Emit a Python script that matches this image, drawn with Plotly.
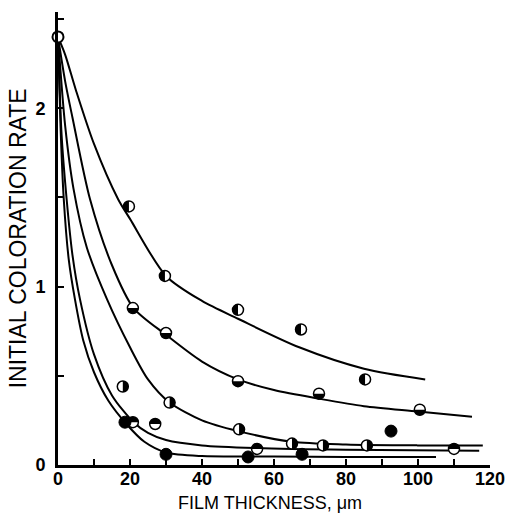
import plotly.graph_objects as go

# Curves: initial coloration rate vs. film thickness (um)
c1_x = [0, 2, 5, 10, 16.7, 20, 30, 40, 50, 67, 85, 102]
c1_y = [2.4, 2.3, 2.1, 1.8, 1.49, 1.38, 1.06, 0.92, 0.82, 0.66, 0.54, 0.48]

c2_x = [0, 2, 4, 8.9, 15, 21, 30, 40, 50, 60, 73, 85, 100, 115]
c2_y = [2.4, 2.15, 1.95, 1.49, 1.12, 0.88, 0.73, 0.58, 0.48, 0.42, 0.37, 0.33, 0.30, 0.27]

c3_x = [0, 2, 4.3, 8, 13.6, 20, 25, 31, 40, 50, 65, 80, 100, 118]
c3_y = [2.4, 1.9, 1.55, 1.22, 0.93, 0.66, 0.48, 0.35, 0.25, 0.19, 0.13, 0.115, 0.11, 0.11]

c4_x = [0, 1, 2.4, 4, 6.1, 10, 15, 21, 25, 30, 40, 55, 80, 117]
c4_y = [2.4, 1.85, 1.49, 1.18, 0.93, 0.62, 0.39, 0.24, 0.18, 0.14, 0.11, 0.095, 0.085, 0.08]

c5_x = [0, 0.7, 1.6, 3, 4.7, 7, 10, 14, 19, 24, 30, 40, 60, 80, 105]
c5_y = [2.4, 1.9, 1.49, 1.15, 0.93, 0.7, 0.52, 0.36, 0.23, 0.13, 0.07, 0.05, 0.048, 0.045, 0.045]

# Measured points
p1_x = [19.7, 29.7, 50, 67.5, 85.3]
p1_y = [1.45, 1.06, 0.87, 0.76, 0.48]

p2_x = [20.8, 30, 50, 72.5, 100.5]
p2_y = [0.88, 0.74, 0.47, 0.40, 0.31]

p3_x = [18, 31, 50.3, 65, 73.6, 85.8]
p3_y = [0.44, 0.35, 0.20, 0.12, 0.11, 0.11]

p4_x = [20.8, 27, 55.3, 110]
p4_y = [0.24, 0.23, 0.09, 0.09]

p5_x = [18.6, 30, 52.8, 67.8, 92.5]
p5_y = [0.24, 0.06, 0.045, 0.06, 0.19]

origin_x = [0]
origin_y = [2.4]

x_ticks = [0, 20, 40, 60, 80, 100, 120]
y_ticks = [0, 1, 2]

x_title = "FILM THICKNESS, \u03bcm"
y_title = "INITIAL COLORATION RATE"

fig = go.Figure()

for cx, cy in [(c1_x, c1_y), (c2_x, c2_y), (c3_x, c3_y), (c4_x, c4_y), (c5_x, c5_y)]:
    fig.add_trace(go.Scatter(x=cx, y=cy, mode="lines",
                             line=dict(color="black", width=2, shape="spline", smoothing=0.8),
                             cliponaxis=False, hoverinfo="skip"))

R = 5.5
K = 0.5523 * R


def half_disc(side):
    # closed Bezier half-disc, pixel offsets around the anchor (y grows upward)
    if side == "left":
        return (f"M 0 {R} C {-K} {R} {-R} {K} {-R} 0 "
                f"C {-R} {-K} {-K} {-R} 0 {-R} Z")
    if side == "right":
        return (f"M 0 {R} C {K} {R} {R} {K} {R} 0 "
                f"C {R} {-K} {K} {-R} 0 {-R} Z")
    if side == "bottom":
        return (f"M {-R} 0 C {-R} {-K} {-K} {-R} 0 {-R} "
                f"C {K} {-R} {R} {-K} {R} 0 Z")
    return (f"M {-R} 0 C {-R} {K} {-K} {R} 0 {R} "
            f"C {K} {R} {R} {K} {R} 0 Z")


groups = [(p1_x, p1_y, "left"), (p2_x, p2_y, "bottom"), (p3_x, p3_y, "right"),
          (p4_x, p4_y, "top")]

for px, py, side in groups:
    fig.add_trace(go.Scatter(x=px, y=py, mode="markers", cliponaxis=False,
                             marker=dict(symbol="circle", size=11, color="white",
                                         line=dict(color="black", width=1.5))))
    for xv, yv in zip(px, py):
        fig.add_shape(type="path", xref="x", yref="y",
                      xsizemode="pixel", ysizemode="pixel",
                      xanchor=xv, yanchor=yv, path=half_disc(side),
                      fillcolor="black", line=dict(width=0), layer="above")

fig.add_trace(go.Scatter(x=p5_x, y=p5_y, mode="markers", cliponaxis=False,
                         marker=dict(symbol="circle", size=12, color="black",
                                     line=dict(color="black", width=1))))

fig.add_trace(go.Scatter(x=origin_x, y=origin_y, mode="markers", cliponaxis=False,
                         marker=dict(symbol="circle", size=11, color="white",
                                     line=dict(color="black", width=2))))

family = "Liberation Sans, Arial, sans-serif"
tick_font = dict(family="Liberation Sans", size=18, color="black", weight=700)

# axis titles as paper-anchored annotations
fig.add_annotation(text=x_title, xref="paper", yref="paper", x=0.49, y=-0.084,
                   xanchor="center", yanchor="middle", showarrow=False,
                   font=dict(family=family, size=18, color="black"))
fig.add_annotation(text=y_title, xref="paper", yref="paper", x=-0.093, y=0.5,
                   xanchor="center", yanchor="middle", showarrow=False, textangle=-90,
                   font=dict(family=family, size=23, color="black"))

fig.update_layout(
    width=506, height=515,
    margin=dict(l=58, r=16, t=12, b=50),
    paper_bgcolor="white", plot_bgcolor="white",
    showlegend=False,
    font=dict(family=family, size=18, color="black"),
    xaxis=dict(range=[0, 120], tickvals=x_ticks, ticks="inside", ticklen=6,
               tickwidth=2, tickcolor="black", tickfont=tick_font, automargin=False,
               minor=dict(dtick=10, tick0=0, ticks="inside", ticklen=6,
                          tickwidth=2, tickcolor="black"),
               showline=True, linewidth=3, linecolor="black", showgrid=False,
               zeroline=False, ticklabelstandoff=-5),
    yaxis=dict(range=[0, 2.54], tickvals=y_ticks, ticks="inside", ticklen=6,
               tickwidth=2, tickcolor="black", tickfont=tick_font, automargin=False,
               minor=dict(dtick=0.5, tick0=0, ticks="inside", ticklen=6,
                          tickwidth=2, tickcolor="black"),
               showline=True, linewidth=3, linecolor="black", showgrid=False,
               zeroline=False, ticklabelstandoff=6),
)

fig.write_html("out.html")
